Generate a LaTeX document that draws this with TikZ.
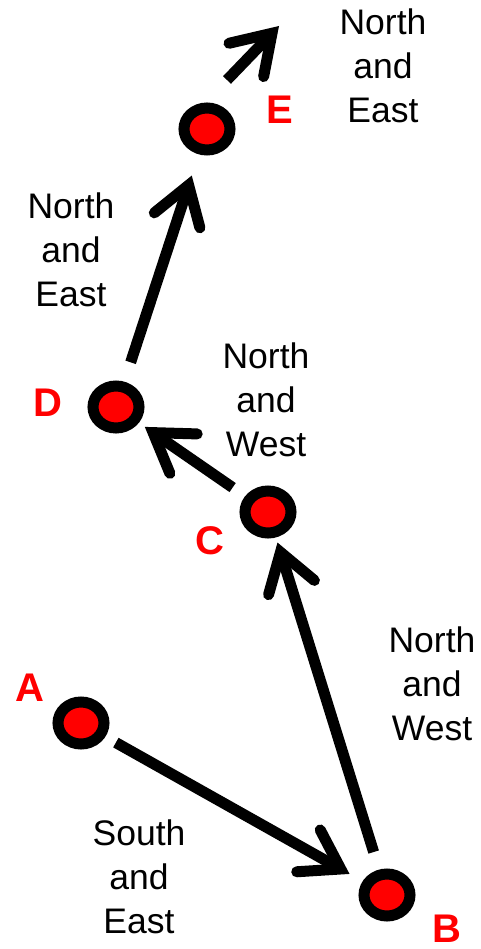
\documentclass[tikz,border=0pt]{standalone}
\usepackage{fontspec}
\setmainfont{Liberation Sans}
\usetikzlibrary{arrows.meta,shapes.geometric}
\definecolor{dotred}{RGB}{255,0,0}
\tikzset{
  dot/.style={ellipse, draw=black, fill=dotred, line width=11pt, minimum width=46pt, minimum height=42pt, inner sep=0pt},
  arr/.style={line width=11pt, -{Straight Barb[length=37pt, width=48pt, line cap=round, line join=miter]}},
  lbl/.style={text=dotred, font=\fontsize{40}{48}\selectfont\bfseries, inner sep=0pt},
  dir/.style={align=center, font=\fontsize{35.5}{44}\selectfont, inner sep=0pt}
}
\begin{document}
\begin{tikzpicture}[x=1pt, y=-1pt]
\useasboundingbox (0,0) rectangle (480,949);
\node[dot] (A) at (81,723) {};
\node[dot] (B) at (387,895) {};
\node[dot] (C) at (268,512) {};
\node[dot] (D) at (116,407) {};
\node[dot] (E) at (207,129) {};
\coordinate (Et) at (279,26);

\node[lbl] (lA) at (30,688) {A};
\node[lbl] (lB) at (447,929) {B};
\node[lbl] (lC) at (210,541) {C};
\node[lbl] (lD) at (48,403) {D};
\node[lbl] (lE) at (280,110) {E};

\draw[arr, shorten <=40pt, shorten >=43pt] (A.center) -- (B.center);
\draw[arr, shorten <=45pt, shorten >=32pt] (B.center) -- (C.center);
\draw[arr, shorten <=43pt, shorten >=35pt] (C.center) -- (D.center);
\draw[arr, shorten <=47pt, shorten >=49pt] (D.center) -- (E.center);
\draw[arr] ([shift={(20,-49)}]E.center) -- (Et);

\node[dir] (t1) at (383,66) {North\\and\\East};
\node[dir] (t2) at (71,250) {North\\and\\East};
\node[dir] (t3) at (266,400) {North\\and\\West};
\node[dir] (t4) at (432,684) {North\\and\\West};
\node[dir] (t5) at (139,877) {South\\and\\East};
\end{tikzpicture}
\end{document}
